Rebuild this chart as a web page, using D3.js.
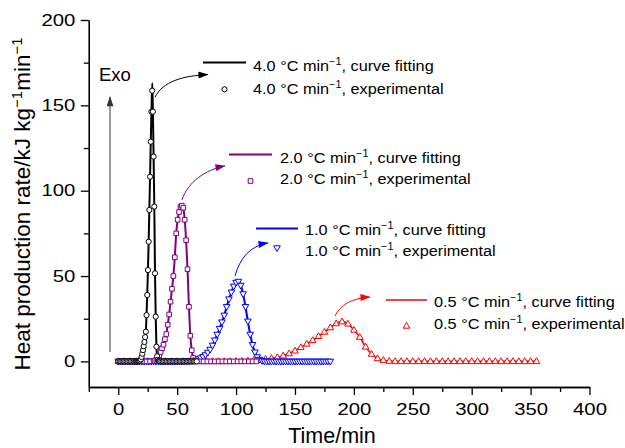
<!DOCTYPE html>
<html>
<head>
<meta charset="utf-8">
<script src="https://cdn.jsdelivr.net/npm/d3@7"></script>
<style>
  body { margin: 0; background: #fff; }
  svg { display: block; }
  text { font-family: "Liberation Sans", Arial, Helvetica, sans-serif; fill: #000; }
</style>
</head>
<body>
<svg id="chart" width="625" height="448"></svg>
<script>
// ---- Heat production rate of samples heated at four rates ----

// 4.0 °C/min, experimental
const time40 = [0, 1.2, 2.4, 3.6, 4.8, 6.0, 7.2, 8.4, 9.6, 10.8, 12.0, 13.2, 14.4,
  15.0, 15.6, 16.2, 16.8, 17.4, 18.0, 18.6, 19.2, 19.8, 20.4, 21.0, 21.6, 22.2, 22.8,
  23.4, 24.0, 24.6, 25.2, 25.8, 26.4, 27.0, 27.6, 28.2, 28.8, 29.4, 30.0, 30.6, 31.2,
  31.8, 32.4, 33.0, 33.6, 34.2, 34.8, 35.4,
  36.6, 37.8, 39.0, 40.2, 41.4, 42.6, 43.8, 45.0, 46.2, 47.4, 48.6, 49.8, 51.0, 52.2,
  53.4, 54.6, 55.8, 57.0, 58.2, 59.4, 60.6, 61.8, 63.0, 64.2, 65.4, 66.6];
const rate40 = [0, 0, 0, 0, 0, 0, 0, 0, 0, 0, 0, 0, 0,
  0, 0, 0, 0, 0.1, 0.2, 0.5, 1.2, 2.6, 4.5, 6.6, 8.9, 11.4, 14.2,
  17.4, 27.1, 38.9, 53.5, 70.1, 88.7, 108.2, 128.7, 146.3, 158.6, 146.3, 120.0, 90.7, 51.6,
  26.2, 8.6, 3.0, 0.9, 0.3, 0.1, 0,
  0, 0, 0, 0, 0, 0, 0, 0, 0, 0, 0, 0, 0, 0,
  0, 0, 0, 0, 0, 0, 0, 0, 0, 0, 0, 0];
// 4.0 °C/min, fitted curve
const fitTime40 = [0, 17.4, 18.6, 19.8, 21.0, 22.2, 23.4, 24.0, 24.6, 25.2, 25.8, 26.4, 27.0,
  27.6, 28.2, 28.9, 29.4, 30.0, 30.6, 31.2, 31.8, 32.4, 33.0, 33.6, 34.8, 66.6];
const fitRate40 = [0, 0.1, 0.5, 2.6, 6.6, 11.4, 17.4, 27.1, 38.9, 53.5, 70.1, 88.7, 108.2,
  128.7, 146.3, 163.0, 146.3, 120.0, 90.7, 51.6, 26.2, 8.6, 3.0, 0.9, 0.1, 0];

// 2.0 °C/min, experimental
const time20 = [0, 3, 6, 9, 12, 15, 18, 21, 24, 27,
  30.0, 31.2, 32.4, 33.6, 34.8, 36.0, 37.2, 38.4, 39.6, 40.8, 42.0, 43.2, 44.4, 45.6,
  46.8, 48.0, 49.2, 50.4, 51.6, 52.8, 54.0, 55.2, 56.4, 57.6, 58.8, 60.0, 61.2, 62.4,
  63.6, 64.8, 66.0,
  69.2, 72.4, 75.6, 78.8, 82.0, 85.2, 88.4, 91.6, 94.8, 98.0, 101.2, 104.4, 107.6,
  110.8, 114.0, 117.2];
const rate20 = [0, 0, 0, 0, 0, 0, 0, 0, 0, 0,
  0.1, 0.4, 1.0, 2.0, 3.5, 5.5, 7.7, 9.8, 13.0, 16.0, 21.5, 27.5, 35.0, 42.5,
  50.0, 61.0, 75.0, 83.0, 87.5, 90.5, 91.2, 90.0, 83.0, 71.0, 54.0, 32.0, 15.0, 6.5,
  2.0, 0.6, 0.1,
  0, 0, 0, 0, 0, 0, 0, 0, 0, 0, 0, 0, 0,
  0, 0, 0];

// 1.0 °C/min, experimental
const time10 = [0, 2, 4, 6, 8, 10, 12, 14, 16, 18, 20, 22, 24, 26, 28, 30, 32, 34, 36, 38,
  40, 42, 44, 46, 48, 50, 52, 54, 56, 58, 60, 62, 64, 66, 68, 70, 72, 74, 76, 78,
  80, 82, 84, 86, 88, 90, 92, 94, 96, 98, 100, 102, 104, 106, 108, 110, 112, 114, 116, 118,
  120, 122, 124, 126, 128, 130, 132, 134, 136, 138, 140, 142, 144, 146, 148, 150, 152, 154, 156, 158,
  160, 162, 164, 166, 168, 170, 172, 174, 176, 178, 180];
const rate10 = [0, 0, 0, 0, 0, 0, 0, 0, 0, 0, 0, 0, 0, 0, 0, 0, 0, 0, 0, 0,
  0, 0, 0, 0, 0, 0, 0, 0, 0.1, 0.15, 0.25, 0.4, 0.6, 0.9, 1.4, 2.0, 2.8, 3.8, 5.2, 7.0,
  9.4, 12.4, 15.8, 19.2, 23.0, 27.0, 32.0, 36.5, 40.5, 44.0, 46.2, 46.8, 44.5, 39.5, 32.0, 23.5, 15.8, 9.8, 5.4, 2.6,
  1.1, 0.4, 0.1, 0, 0, 0, 0, 0, 0, 0, 0, 0, 0, 0, 0, 0, 0, 0, 0, 0,
  0, 0, 0, 0, 0, 0, 0, 0, 0, 0, 0];

// 0.5 °C/min, experimental
const time05 = [0, 5, 10, 15, 20, 25, 30, 35, 40, 45, 50, 55, 60, 65, 70, 75, 80, 85, 90, 95,
  100, 105, 110, 115, 120, 125, 130, 135, 140, 145, 150, 155, 160, 165, 170, 175, 180, 185, 190, 195,
  200, 205, 210, 215, 220, 225, 230, 235, 240, 245, 250, 255, 260, 265, 270, 275, 280, 285, 290, 295,
  300, 305, 310, 315, 320, 325, 330, 335, 340, 345, 350, 355];
const rate05 = [0, 0, 0, 0, 0, 0, 0, 0, 0, 0, 0, 0, 0, 0, 0, 0, 0, 0, 0, 0,
  0.1, 0.2, 0.4, 0.7, 1.0, 1.4, 1.8, 2.3, 3.3, 4.6, 6.2, 8.2, 10.2, 12.3, 14.7, 17.2, 19.8, 22.2, 23.3, 22.0,
  18.4, 14.2, 8.5, 4.3, 1.7, 0.7, 0.2, 0, 0, 0, 0, 0, 0, 0, 0, 0, 0, 0, 0, 0,
  0, 0, 0, 0, 0, 0, 0, 0, 0, 0, 0, 0];

const rateLabels = ["4.0", "2.0", "1.0", "0.5"];
const xMajorTicks = [0, 50, 100, 150, 200, 250, 300, 350, 400];
const xMinorTicks = [-25, 25, 75, 125, 175, 225, 275, 325, 375];
const yMajorTicks = [0, 50, 100, 150, 200];
const yMinorTicks = [25, 75, 125, 175];

// ---- layout ----
const svg = d3.select("#chart");
const x = d3.scaleLinear().domain([-25, 400]).range([88.8, 589.5]);
const y = d3.scaleLinear().domain([-15, 200]).range([387, 20]);

// wide set type for tick labels and legend entries
const tickStretch = 1.27;
const legendStretch = 1.085;

const zip = (t, v) => t.map((d, i) => [d, v[i]]);

// series drawn from the slowest rate up, so the fast peaks sit on top
const series = [
  { label: rateLabels[3], color: "#ff0000", width: 1.6, shape: "up",
    pts: zip(time05, rate05), fit: zip(time05, rate05),
    leg: { lx1: 386, lx2: 427, ly: 300, my: 326, tx: 434, b1: 307, b2: 329 },
    arrow: [[184, 26.6], [188.2, 33], [198.4, 37.1], [213.7, 37.7]] },
  { label: rateLabels[2], color: "#0000ff", width: 2, shape: "down",
    pts: zip(time10, rate10), fit: zip(time10, rate10),
    leg: { lx1: 256, lx2: 298, ly: 228.5, my: 248, tx: 305, b1: 235, b2: 256 },
    arrow: [[99.1, 50], [103.3, 60.6], [111.8, 67.6], [127.1, 69.4]] },
  { label: rateLabels[1], color: "#800080", width: 2, shape: "square",
    pts: zip(time20, rate20), fit: zip(time20, rate20),
    leg: { lx1: 229, lx2: 272, ly: 154.5, my: 181, tx: 280, b1: 162.5, b2: 184 },
    arrow: [[54.1, 94.6], [59.2, 105.1], [73.6, 112.2], [90.6, 114.5]] },
  { label: rateLabels[0], color: "#000000", width: 2, shape: "circle",
    pts: zip(time40, rate40), fit: zip(fitTime40, fitRate40),
    leg: { lx1: 203, lx2: 246, ly: 62.5, my: 89.3, tx: 253, b1: 71, b2: 93.5 },
    arrow: [[31.2, 154.8], [37.8, 163.9], [54.8, 167.4], [76.1, 168]] }
];

// marker shapes centred on 0,0
function markerPath(shape) {
  if (shape === "up") return "M0,-3.6L3.3,2.2L-3.3,2.2Z";
  if (shape === "down") return "M0,3.6L3.3,-2.2L-3.3,-2.2Z";
  if (shape === "square") return "M-2.3,-2.3H2.3V2.3H-2.3Z";
  return "M2.6,0A2.6,2.6 0 1 1 -2.6,0A2.6,2.6 0 1 1 2.6,0Z";
}

// ---- axes ----
const axisColor = "#000";
function styleAxis(g) {
  g.selectAll("path.domain").attr("stroke", axisColor).attr("stroke-width", 1.3);
  g.selectAll(".tick line").attr("stroke", axisColor).attr("stroke-width", 1.3);
  g.selectAll("text").attr("font-size", 16).attr("fill", "#000")
    .style("font-family", '"Liberation Sans", Arial, sans-serif');
}
const xAxisY = y(-15), yAxisX = x(-25);

svg.append("g").attr("transform", `translate(0,${xAxisY})`)
  .call(d3.axisBottom(x).tickValues(xMinorTicks).tickSize(5).tickSizeOuter(0).tickFormat(""))
  .call(styleAxis);
const gx = svg.append("g").attr("transform", `translate(0,${xAxisY})`)
  .call(d3.axisBottom(x).tickValues(xMajorTicks).tickSize(8).tickPadding(9).tickSizeOuter(0).tickFormat(d3.format("d")))
  .call(styleAxis);
gx.selectAll(".tick text").attr("transform", `scale(${tickStretch},1)`);

svg.append("g").attr("transform", `translate(${yAxisX},0)`)
  .call(d3.axisLeft(y).tickValues(yMinorTicks).tickSize(5).tickSizeOuter(0).tickFormat(""))
  .call(styleAxis);
const gy = svg.append("g").attr("transform", `translate(${yAxisX},0)`)
  .call(d3.axisLeft(y).tickValues(yMajorTicks).tickSize(8).tickPadding(5).tickSizeOuter(0).tickFormat(d3.format("d")))
  .call(styleAxis);
gy.selectAll(".tick text")
  .attr("x", -13.5 / tickStretch)
  .attr("transform", `scale(${tickStretch},1)`);

// axis titles
svg.append("text").attr("x", 332).attr("y", 443).attr("text-anchor", "middle")
  .attr("font-size", 21.5).text("Time/min");

const yt = svg.append("text").attr("transform", "translate(30,204) rotate(-90)")
  .attr("text-anchor", "middle").attr("font-size", 22.5);
yt.append("tspan").text("Heat production rate/kJ kg");
yt.append("tspan").attr("dy", -8).attr("font-size", 15).text("\u22121");
yt.append("tspan").attr("dy", 8).text("min");
yt.append("tspan").attr("dy", -8).attr("font-size", 15).text("\u22121");

// exotherm direction arrow
const defs = svg.append("defs");
function arrowHead(id, color) {
  defs.append("marker").attr("id", id).attr("viewBox", "0 0 10 7")
    .attr("refX", 9.5).attr("refY", 3.5).attr("markerUnits", "userSpaceOnUse")
    .attr("markerWidth", 11).attr("markerHeight", 7).attr("orient", "auto")
    .append("path").attr("d", "M0,0L10,3.5L0,7Z").attr("fill", color);
}
arrowHead("head-exo", "#333");
svg.append("line").attr("x1", x(-7)).attr("x2", x(-7)).attr("y1", y(5.5)).attr("y2", y(155))
  .attr("stroke", "#333").attr("stroke-width", 1).attr("marker-end", "url(#head-exo)");
svg.append("text").attr("x", 99).attr("y", 81).attr("font-size", 18.5).text("Exo");

// ---- curves and points ----
const line = d3.line().x(d => x(d[0])).y(d => y(d[1])).curve(d3.curveMonotoneX);

series.forEach(s => {
  svg.append("path").datum(s.fit).attr("d", line)
    .attr("fill", "none").attr("stroke", s.color).attr("stroke-width", s.width)
    .attr("stroke-linejoin", "round");
});
series.forEach(s => {
  svg.append("g").selectAll("path").data(s.pts).join("path")
    .attr("d", markerPath(s.shape))
    .attr("transform", d => `translate(${x(d[0])},${y(d[1])})`)
    .attr("fill", "#fff").attr("stroke", s.color).attr("stroke-width", 1);
});

// ---- annotation arrows and legend ----
series.forEach((s, i) => {
  const id = "head-" + i;
  arrowHead(id, s.color);
  const a = s.arrow.map(p => [x(p[0]), y(p[1])]);
  svg.append("path")
    .attr("d", `M${a[0]}C${a[1]} ${a[2]} ${a[3]}`)
    .attr("fill", "none").attr("stroke", s.color).attr("stroke-width", 1)
    .attr("marker-end", `url(#${id})`);

  const L = s.leg;
  svg.append("line").attr("x1", L.lx1).attr("x2", L.lx2).attr("y1", L.ly).attr("y2", L.ly)
    .attr("stroke", s.color).attr("stroke-width", s.width);
  svg.append("path").attr("d", markerPath(s.shape))
    .attr("transform", `translate(${(L.lx1 + L.lx2) / 2},${L.my})`)
    .attr("fill", "#fff").attr("stroke", s.color).attr("stroke-width", 1);

  [[L.b1, "curve fitting"], [L.b2, "experimental"]].forEach(([b, kind]) => {
    const t = svg.append("text")
      .attr("transform", `translate(${L.tx},${b}) scale(${legendStretch},1)`)
      .attr("font-size", 15);
    t.append("tspan").text(`${s.label} \u00b0C min`);
    t.append("tspan").attr("dy", -6).attr("font-size", 10).text("\u22121");
    t.append("tspan").attr("dy", 6).text(`, ${kind}`);
  });
});
</script>
</body>
</html>
